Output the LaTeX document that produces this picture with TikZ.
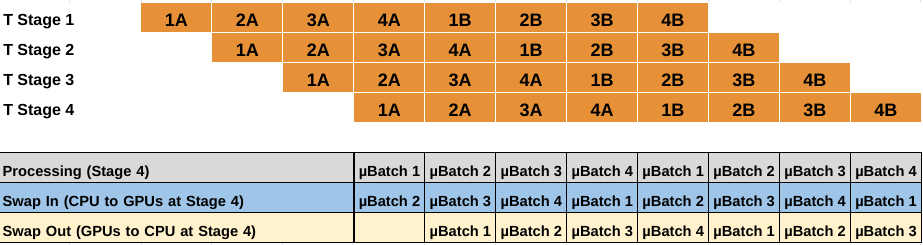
\documentclass[tikz,border=0pt]{standalone}
\usepackage{fontspec}
\setmainfont{Liberation Sans}
\usepackage{xcolor}
\usepackage{tikz}
\usetikzlibrary{positioning}

\definecolor{stageorange}{HTML}{E69138}
\definecolor{procgray}{HTML}{D9D9D9}
\definecolor{swapinblue}{HTML}{9FC5E8}
\definecolor{swapoutyellow}{HTML}{FFF2CC}

\begin{document}
\begin{tikzpicture}[
    x=0.75pt, y=-0.75pt,
    node distance=0pt,
    stage/.style={rectangle, draw=white, line width=0.75pt, fill=stageorange, minimum width=53.2pt, minimum height=22.5pt, inner sep=0pt, outer sep=0pt, text height=18pt, text depth=4.5pt, font=\fontsize{13.5}{15}\selectfont\bfseries},
    rowname/.style={anchor=base west, inner sep=0pt, font=\fontsize{12}{14}\selectfont\bfseries},
    cell/.style={rectangle, draw=black, line width=0.8pt, minimum width=53.2pt, minimum height=22.5pt, inner sep=0pt, outer sep=0pt, text height=18pt, text depth=4.5pt, font=\fontsize{11}{13}\selectfont\bfseries},
    head/.style={cell, text width=260.7pt, inner xsep=2.775pt, align=left},
    tick/.style={draw=black!12, line width=0.75pt}
]
\useasboundingbox (0,0) rectangle (923,245);

% faint sheet grid
\foreach \k in {0,...,11} {
    \draw[tick] ({141+70.9*\k},0) -- ++(0,2.5);
    \draw[tick] ({141+70.9*\k},243) -- ++(0,2);
}
\draw[tick] (69,0) -- ++(0,2.5);
\draw[tick] (69,243) -- ++(0,2);

% pipeline stages
\node[rowname] (t1) at (3,26) {T Stage 1};
\node[rowname] (t2) at (3,56) {T Stage 2};
\node[rowname] (t3) at (3,86) {T Stage 3};
\node[rowname] (t4) at (3,116) {T Stage 4};

\node[stage] (s1c1) at (176.45,17.5) {1A};
\node[stage, right=of s1c1] (s1c2) {2A};
\node[stage, right=of s1c2] (s1c3) {3A};
\node[stage, right=of s1c3] (s1c4) {4A};
\node[stage, right=of s1c4] (s1c5) {1B};
\node[stage, right=of s1c5] (s1c6) {2B};
\node[stage, right=of s1c6] (s1c7) {3B};
\node[stage, right=of s1c7] (s1c8) {4B};

\node[stage, below right=of s1c1] (s2c1) {1A};
\node[stage, right=of s2c1] (s2c2) {2A};
\node[stage, right=of s2c2] (s2c3) {3A};
\node[stage, right=of s2c3] (s2c4) {4A};
\node[stage, right=of s2c4] (s2c5) {1B};
\node[stage, right=of s2c5] (s2c6) {2B};
\node[stage, right=of s2c6] (s2c7) {3B};
\node[stage, right=of s2c7] (s2c8) {4B};

\node[stage, below right=of s2c1] (s3c1) {1A};
\node[stage, right=of s3c1] (s3c2) {2A};
\node[stage, right=of s3c2] (s3c3) {3A};
\node[stage, right=of s3c3] (s3c4) {4A};
\node[stage, right=of s3c4] (s3c5) {1B};
\node[stage, right=of s3c5] (s3c6) {2B};
\node[stage, right=of s3c6] (s3c7) {3B};
\node[stage, right=of s3c7] (s3c8) {4B};

\node[stage, below right=of s3c1] (s4c1) {1A};
\node[stage, right=of s4c1] (s4c2) {2A};
\node[stage, right=of s4c2] (s4c3) {3A};
\node[stage, right=of s4c3] (s4c4) {4A};
\node[stage, right=of s4c4] (s4c5) {1B};
\node[stage, right=of s4c5] (s4c6) {2B};
\node[stage, right=of s4c6] (s4c7) {3B};
\node[stage, right=of s4c7] (s4c8) {4B};

% stage 4 schedule
\node[head, fill=procgray] (proc) at (176.5,167.5) {Processing (Stage 4)};
\node[cell, fill=procgray, right=of proc] (p1) {µBatch 1};
\node[cell, fill=procgray, right=of p1] (p2) {µBatch 2};
\node[cell, fill=procgray, right=of p2] (p3) {µBatch 3};
\node[cell, fill=procgray, right=of p3] (p4) {µBatch 4};
\node[cell, fill=procgray, right=of p4] (p5) {µBatch 1};
\node[cell, fill=procgray, right=of p5] (p6) {µBatch 2};
\node[cell, fill=procgray, right=of p6] (p7) {µBatch 3};
\node[cell, fill=procgray, right=of p7] (p8) {µBatch 4};

\node[head, fill=swapinblue, below=of proc] (swin) {Swap In (CPU to GPUs at Stage 4)};
\node[cell, fill=swapinblue, right=of swin] (i1) {µBatch 2};
\node[cell, fill=swapinblue, right=of i1] (i2) {µBatch 3};
\node[cell, fill=swapinblue, right=of i2] (i3) {µBatch 4};
\node[cell, fill=swapinblue, right=of i3] (i4) {µBatch 1};
\node[cell, fill=swapinblue, right=of i4] (i5) {µBatch 2};
\node[cell, fill=swapinblue, right=of i5] (i6) {µBatch 3};
\node[cell, fill=swapinblue, right=of i6] (i7) {µBatch 4};
\node[cell, fill=swapinblue, right=of i7] (i8) {µBatch 1};

\node[head, fill=swapoutyellow, below=of swin] (swout) {Swap Out (GPUs to CPU at Stage 4)};
\node[cell, fill=swapoutyellow, right=of swout] (o1) {};
\node[cell, fill=swapoutyellow, right=of o1] (o2) {µBatch 1};
\node[cell, fill=swapoutyellow, right=of o2] (o3) {µBatch 2};
\node[cell, fill=swapoutyellow, right=of o3] (o4) {µBatch 3};
\node[cell, fill=swapoutyellow, right=of o4] (o5) {µBatch 4};
\node[cell, fill=swapoutyellow, right=of o5] (o6) {µBatch 1};
\node[cell, fill=swapoutyellow, right=of o6] (o7) {µBatch 2};
\node[cell, fill=swapoutyellow, right=of o7] (o8) {µBatch 3};
\end{tikzpicture}
\end{document}
